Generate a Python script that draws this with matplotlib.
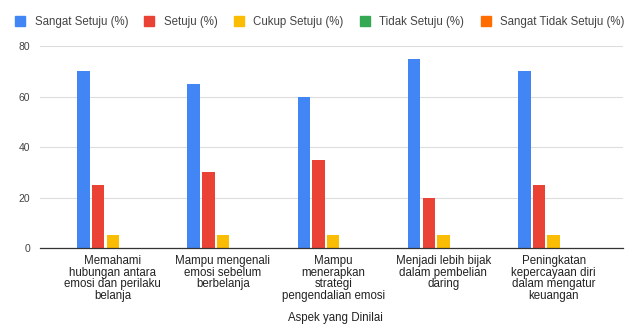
import numpy as np
import matplotlib
matplotlib.use("Agg")
import matplotlib.pyplot as plt
from matplotlib.lines import Line2D

# data
categories = [
    "Memahami\nhubungan antara\nemosi dan perilaku\nbelanja",
    "Mampu mengenali\nemosi sebelum\nberbelanja",
    "Mampu\nmenerapkan\nstrategi\npengendalian emosi",
    "Menjadi lebih bijak\ndalam pembelian\ndaring",
    "Peningkatan\nkepercayaan diri\ndalam mengatur\nkeuangan",
]
series_names = [
    "Sangat Setuju (%)",
    "Setuju (%)",
    "Cukup Setuju (%)",
    "Tidak Setuju (%)",
    "Sangat Tidak Setuju (%)",
]
sangat_setuju = [70, 65, 60, 75, 70]
setuju = [25, 30, 35, 20, 25]
cukup_setuju = [5, 5, 5, 5, 5]
tidak_setuju = [0, 0, 0, 0, 0]
sangat_tidak_setuju = [0, 0, 0, 0, 0]
y_ticks = [0, 20, 40, 60, 80]
x_title = "Aspek yang Dinilai"

colors = ["#4285F4", "#EA4335", "#FBBC04", "#34A853", "#FF6D01"]
all_series = [sangat_setuju, setuju, cukup_setuju, tidak_setuju, sangat_tidak_setuju]

plt.rcParams["font.family"] = ["Liberation Sans", "DejaVu Sans"]

fig = plt.figure(figsize=(6.29, 3.27), dpi=100)
ax = fig.add_axes([0.0636, 0.2416, 0.927, 0.6174])

x = np.arange(len(categories))
step = 0.133
width = 0.113
for i, (vals, c) in enumerate(zip(all_series, colors)):
    ax.bar(x + (i - 2) * step, vals, width=width, color=c, zorder=3)

ax.set_xlim(-0.66, 4.63)
ax.set_ylim(0, 80)
ax.set_yticks(y_ticks)
ax.set_yticklabels([str(t) for t in y_ticks], fontsize=7.5, color="#444444")
ax.set_xticks(x)
ax.set_xticklabels(categories, fontsize=8.3, color="#222222", linespacing=0.97)
ax.tick_params(axis="both", length=0)
ax.tick_params(axis="x", pad=5)
ax.tick_params(axis="y", pad=7)
ax.grid(True, axis="y", color="#dddddd", linewidth=0.8, zorder=0)
for s in ["top", "right", "left"]:
    ax.spines[s].set_visible(False)
ax.spines["bottom"].set_color("#333333")
ax.spines["bottom"].set_linewidth(0.9)
ax.spines["bottom"].set_zorder(4)

fig.text(0.533, 0.028, x_title, ha="center", va="center", fontsize=8.3, color="#222222")

handles = [
    Line2D([0], [0], marker="s", linestyle="none", markersize=7.2,
           markerfacecolor=c, markeredgecolor=c, label=n)
    for n, c in zip(series_names, colors)
]
leg = fig.legend(handles=handles, loc="center left", bbox_to_anchor=(0.023, 0.933),
                 ncol=5, frameon=False, fontsize=8.3, handletextpad=0.75,
                 columnspacing=1.35, handlelength=1.0, borderpad=0, borderaxespad=0)
for t in leg.get_texts():
    t.set_color("#444444")

fig.savefig("out.png", dpi=100)
